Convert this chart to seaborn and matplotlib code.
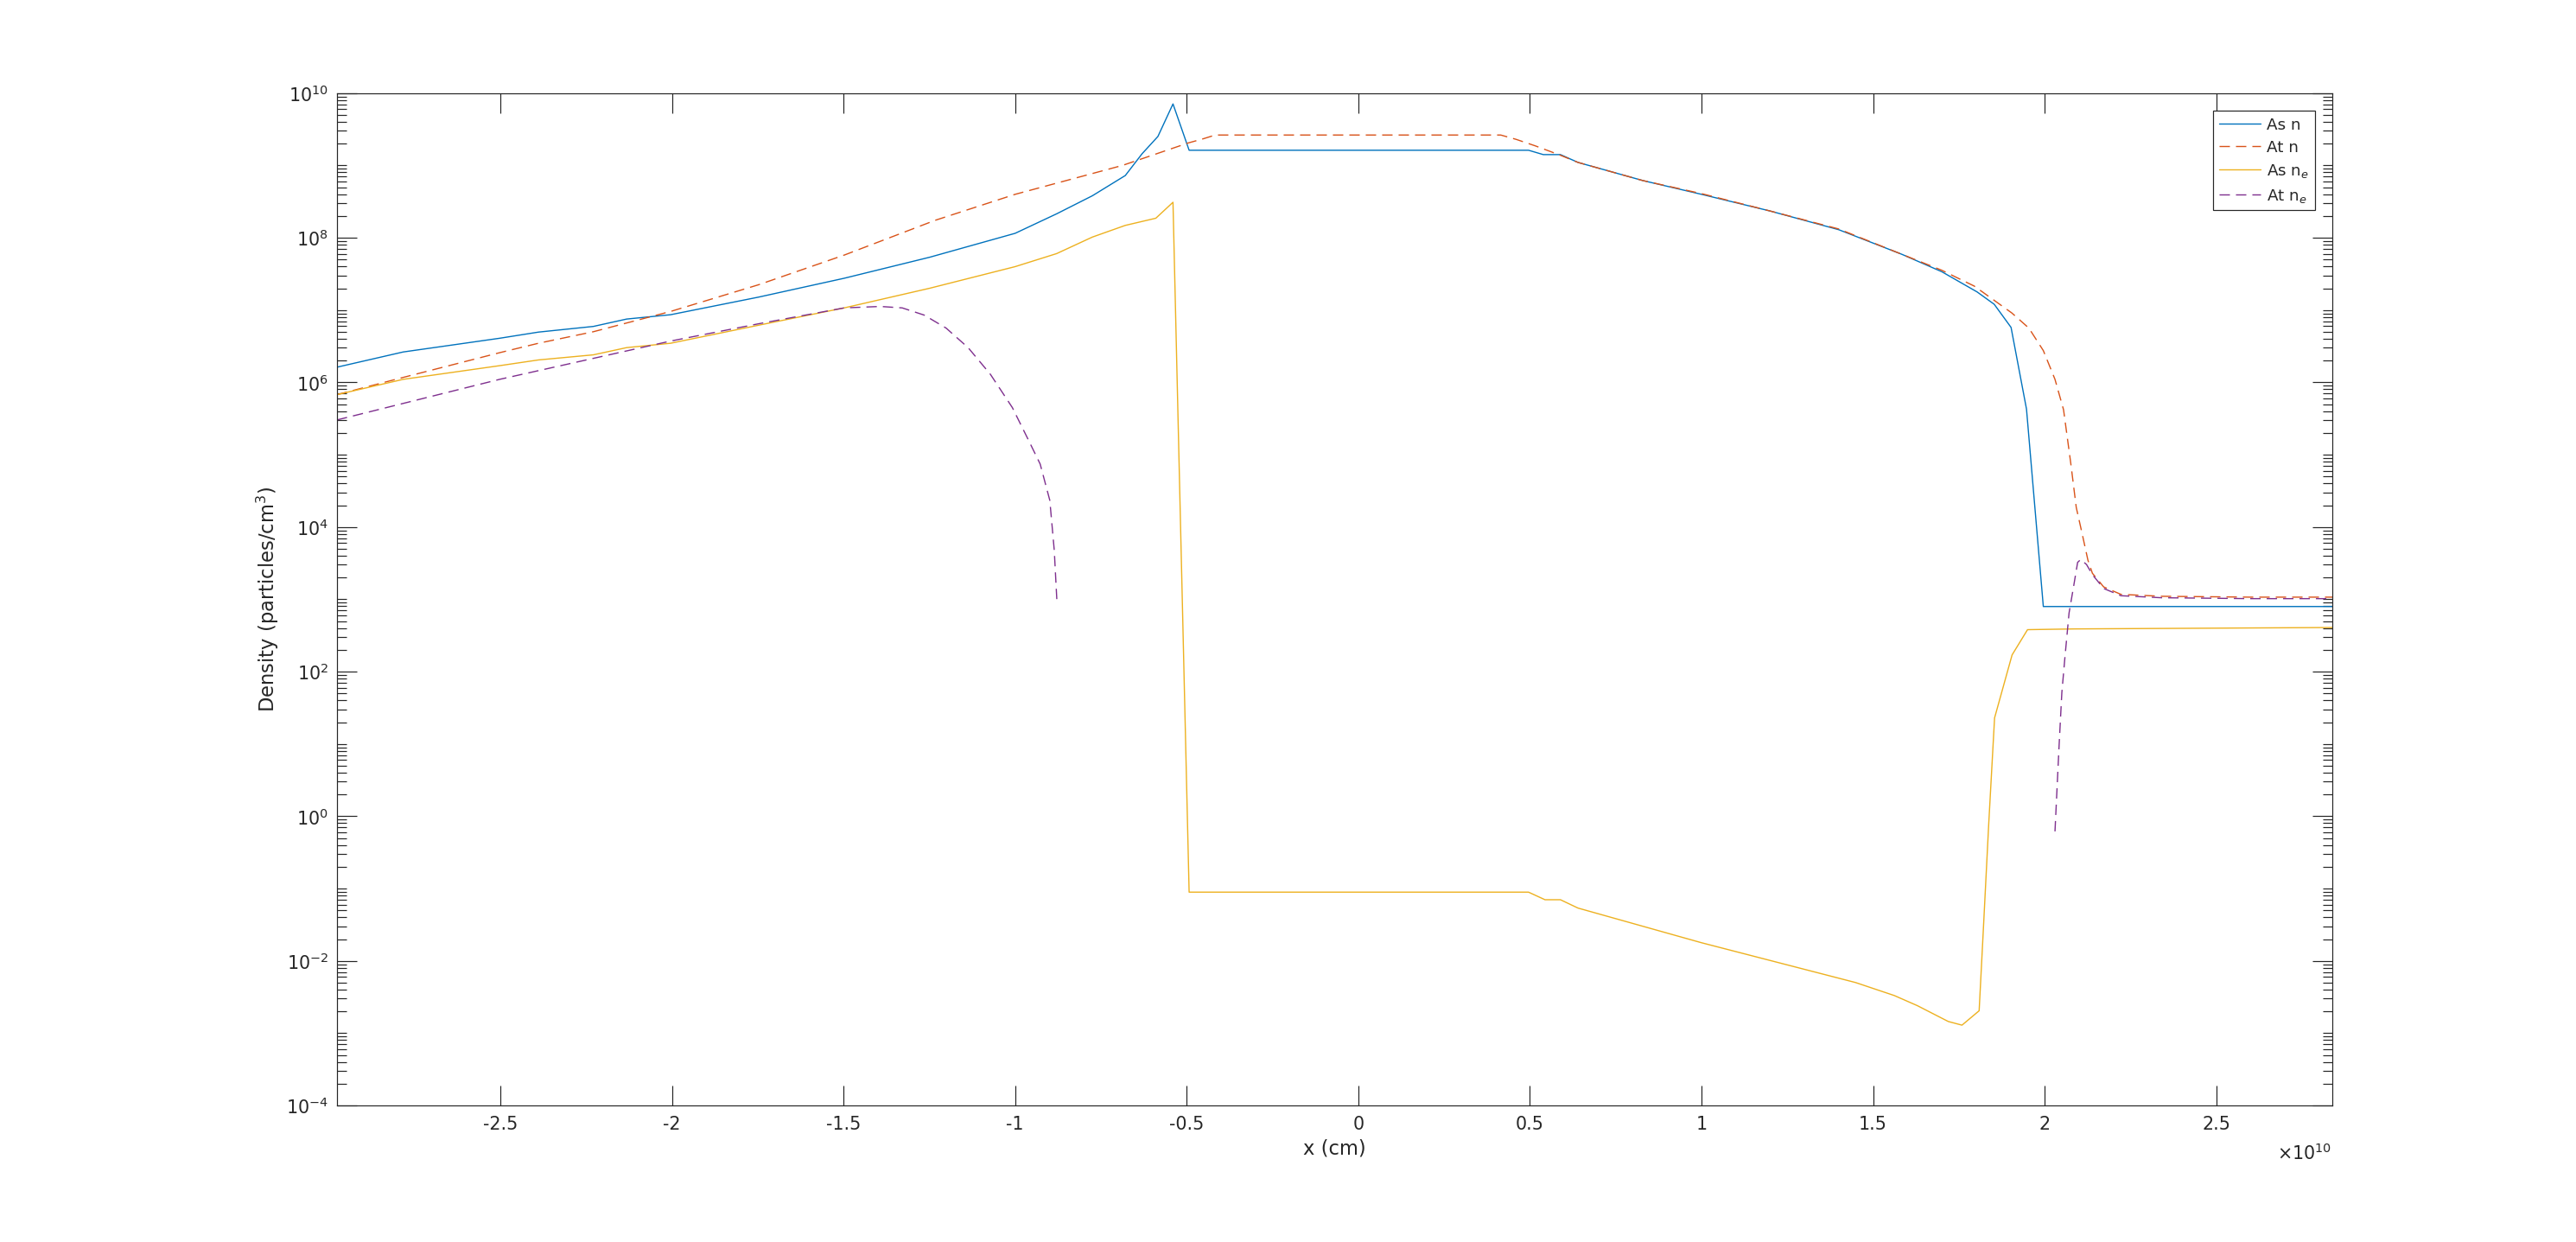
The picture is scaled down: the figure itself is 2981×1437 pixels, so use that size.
import numpy as np
import matplotlib
matplotlib.use("Agg")
import matplotlib.pyplot as plt
import matplotlib.ticker as ticker
import seaborn as sns

# =========================
# DATA (x in units of 1e10 cm, density in particles/cm^3)
# =========================
x_as_n = [-2.976, -2.783, -2.679, -2.502, -2.389, -2.229, -2.132, -2.004, -1.747,
          -1.498, -1.249, -1.0, -0.879, -0.775, -0.679, -0.630, -0.584, -0.540,
          -0.493, 0.496, 0.539, 0.589, 0.640, 0.829, 1.0, 1.2, 1.4, 1.584, 1.70,
          1.803, 1.853, 1.902, 1.947, 1.996, 2.839]
y_as_n = [1.62e6, 2.63e6, 3.09e6, 4.07e6, 4.95e6, 5.93e6, 7.50e6, 8.61e6, 1.51e7,
          2.75e7, 5.37e7, 1.15e8, 2.14e8, 3.80e8, 7.24e8, 1.45e9, 2.51e9, 7.08e9,
          1.62e9, 1.62e9, 1.41e9, 1.41e9, 1.10e9, 6.17e8, 3.98e8, 2.34e8, 1.29e8,
          5.89e7, 3.39e7, 1.78e7, 1.20e7, 5.75e6, 4.27e5, 7.94e2, 7.94e2]

x_at_n = [-2.976, -2.783, -2.502, -2.389, -2.229, -2.004, -1.747, -1.498, -1.233,
          -1.0, -0.687, -0.496, -0.451, -0.417, 0.415, 0.460, 0.516, 0.589, 0.640,
          0.829, 1.0, 1.2, 1.4, 1.584, 1.70, 1.795, 1.904, 1.954, 1.996, 2.030,
          2.055, 2.076, 2.092, 2.109, 2.126, 2.139, 2.172, 2.222, 2.340, 2.600, 2.839]
y_at_n = [6.76e5, 1.17e6, 2.57e6, 3.47e6, 5.01e6, 9.55e6, 2.24e7, 5.75e7, 1.74e8,
          3.98e8, 1.00e9, 2.04e9, 2.34e9, 2.63e9, 2.63e9, 2.29e9, 1.86e9, 1.38e9, 1.10e9,
          6.17e8, 4.07e8, 2.34e8, 1.32e8, 5.89e7, 3.55e7, 2.14e7, 9.12e6, 5.62e6, 2.75e6,
          1.10e6, 4.17e5, 7.59e4, 1.86e4, 8.13e3, 3.47e3, 2.29e3, 1.48e3, 1.17e3, 1.10e3,
          1.07e3, 1.07e3]

x_as_ne = [-2.976, -2.783, -2.502, -2.389, -2.229, -2.132, -2.004, -1.747, -1.498,
           -1.249, -1.0, -0.879, -0.775, -0.679, -0.590, -0.540, -0.493, 0.496, 0.544,
           0.589, 0.640, 1.0, 1.449, 1.562, 1.629, 1.719, 1.759, 1.809, 1.821, 1.837,
           1.854, 1.905, 1.950, 2.088, 2.839]
y_as_ne = [6.76e5, 1.10e6, 1.70e6, 2.04e6, 2.40e6, 3.02e6, 3.47e6, 6.17e6, 1.07e7,
           2.00e7, 3.98e7, 6.03e7, 1.02e8, 1.48e8, 1.86e8, 3.09e8, 8.91e-2, 8.91e-2, 7.00e-2,
           7.00e-2, 5.37e-2, 1.78e-2, 5.01e-3, 3.31e-3, 2.40e-3, 1.45e-3, 1.29e-3, 2.04e-3,
           2.57e-2, 7.94e-1, 2.29e1, 1.70e2, 3.80e2, 3.89e2, 4.07e2]

# At n_e has a gap (no values between about -0.88 and 2.03)
x_at_ne_left = [-2.976, -2.502, -2.004, -1.747, -1.498, -1.393, -1.329, -1.265, -1.201,
                -1.137, -1.072, -1.008, -0.960, -0.927, -0.899, -0.886, -0.878]
y_at_ne_left = [3.02e5, 1.10e6, 3.72e6, 6.46e6, 1.07e7, 1.12e7, 1.07e7, 8.51e6, 5.62e6,
                3.02e6, 1.29e6, 4.47e5, 1.55e5, 7.41e4, 2.34e4, 4.79e3, 8.91e2]
x_at_ne_right = [2.030, 2.042, 2.050, 2.059, 2.071, 2.084, 2.096, 2.105, 2.122, 2.139,
                 2.172, 2.222, 2.340, 2.600, 2.839]
y_at_ne_right = [6.17e-1, 9.55, 5.13e1, 1.58e2, 6.46e2, 1.48e3, 3.24e3, 3.55e3, 3.02e3,
                 2.19e3, 1.41e3, 1.12e3, 1.05e3, 1.02e3, 1.02e3]

x_scale = 1e10
x_ticks = [-2.5, -2, -1.5, -1, -0.5, 0, 0.5, 1, 1.5, 2, 2.5]
y_major = [1e-4, 1e-2, 1e0, 1e2, 1e4, 1e6, 1e8, 1e10]

# MATLAB default colours
c_blue = "#0072BD"
c_orange = "#D95319"
c_yellow = "#EDB120"
c_purple = "#7E2F8E"
c_axes = "#262626"

# =========================
# STYLE
# =========================
sns.set_theme(style="ticks")
plt.rcParams.update({
    "font.family": ["DejaVu Sans"],
    "mathtext.fontset": "dejavusans",
    "axes.unicode_minus": False,
    "lines.scale_dashes": False,
    "axes.edgecolor": c_axes,
    "axes.linewidth": 0.6,
    "xtick.color": c_axes,
    "ytick.color": c_axes,
    "text.color": c_axes,
    "axes.labelcolor": c_axes,
})

dpi = 144
fig = plt.figure(figsize=(2981.4 / dpi, 1437.4 / dpi), dpi=dpi, facecolor="white")
ax = fig.add_axes([0.1308, 0.1099, 0.7746, 0.8149])

lw = 0.7
dash = (0, (6, 3.5))

sns.lineplot(x=np.array(x_as_n) * x_scale, y=y_as_n, ax=ax, color=c_blue,
             linewidth=lw, sort=False, estimator=None, label="As n")
sns.lineplot(x=np.array(x_at_n) * x_scale, y=y_at_n, ax=ax, color=c_orange,
             linewidth=lw, linestyle=dash, sort=False, estimator=None, label="At n")
sns.lineplot(x=np.array(x_as_ne) * x_scale, y=y_as_ne, ax=ax, color=c_yellow,
             linewidth=lw, sort=False, estimator=None, label="As n$_e$")
sns.lineplot(x=np.array(x_at_ne_left) * x_scale, y=y_at_ne_left, ax=ax, color=c_purple,
             linewidth=lw, linestyle=dash, sort=False, estimator=None, label="At n$_e$")
sns.lineplot(x=np.array(x_at_ne_right) * x_scale, y=y_at_ne_right, ax=ax, color=c_purple,
             linewidth=lw, linestyle=dash, sort=False, estimator=None)

ax.set_yscale("log")
ax.set_xlim(-2.976 * x_scale, 2.839 * x_scale)
ax.set_ylim(1e-4, 1e10)

# x ticks (labels in units of 1e10)
ax.xaxis.set_major_locator(ticker.FixedLocator([t * x_scale for t in x_ticks]))
ax.xaxis.set_major_formatter(ticker.FuncFormatter(lambda v, p: f"{v / x_scale:g}"))
ax.xaxis.set_minor_locator(ticker.NullLocator())

# y ticks
ax.yaxis.set_major_locator(ticker.FixedLocator(y_major))
ax.yaxis.set_major_formatter(ticker.LogFormatterSciNotation())
ax.yaxis.set_minor_locator(ticker.LogLocator(base=10, subs=np.arange(1, 10), numticks=100))
ax.yaxis.set_minor_formatter(ticker.NullFormatter())

for s in ax.spines.values():
    s.set_visible(True)
    s.set_color(c_axes)

ax.tick_params(which="major", direction="in", length=11.5, width=0.6,
               top=True, right=True, labelsize=10.3)
ax.tick_params(which="minor", direction="in", length=5.5, width=0.6,
               top=True, right=True)
ax.tick_params(axis="x", pad=6)
ax.tick_params(axis="y", pad=5)

ax.set_xlabel("x (cm)", fontsize=11.3, labelpad=3)
ax.set_ylabel("Density (particles/cm$^3$)", fontsize=11.3, labelpad=3)
ax.grid(False)

fig.text(2698 / 2981, 1 - 1342 / 1437, r"$\times10^{10}$", ha="right", va="baseline",
         fontsize=10.3, color=c_axes)

leg = ax.legend(loc="upper right", fontsize=9.2, frameon=True, fancybox=False,
                framealpha=1, edgecolor=c_axes, handlelength=2.6,
                handletextpad=0.35, borderpad=0.4, labelspacing=0.45,
                borderaxespad=1.1)
leg.get_frame().set_linewidth(0.6)

fig.savefig("out.png", dpi=dpi, facecolor="white")
